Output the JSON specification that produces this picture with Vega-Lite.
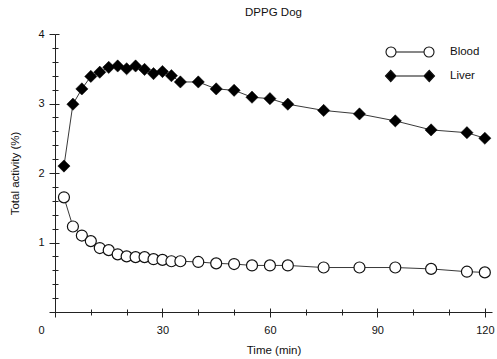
{
  "$schema": "https://vega.github.io/schema/vega-lite/v6.json",
  "autosize": "none",
  "width": 437,
  "height": 278,
  "padding": {"left": 55, "top": 34, "right": 5, "bottom": 47},
  "background": "white",
  "title": {"text": "DPPG Dog", "fontSize": 11.5, "font": "Liberation Sans", "fontWeight": "normal", "color": "#111", "offset": 10, "anchor": "middle"},
  "config": {
    "view": {"stroke": null},
    "font": "Liberation Sans"
  },
  "data": {
    "values": [
      {"series": "Blood", "time": 2.5, "activity": 1.65},
      {"series": "Blood", "time": 5, "activity": 1.23},
      {"series": "Blood", "time": 7.5, "activity": 1.10},
      {"series": "Blood", "time": 10, "activity": 1.02},
      {"series": "Blood", "time": 12.5, "activity": 0.92},
      {"series": "Blood", "time": 15, "activity": 0.89},
      {"series": "Blood", "time": 17.5, "activity": 0.83},
      {"series": "Blood", "time": 20, "activity": 0.80},
      {"series": "Blood", "time": 22.5, "activity": 0.79},
      {"series": "Blood", "time": 25, "activity": 0.79},
      {"series": "Blood", "time": 27.5, "activity": 0.76},
      {"series": "Blood", "time": 30, "activity": 0.75},
      {"series": "Blood", "time": 32.5, "activity": 0.73},
      {"series": "Blood", "time": 35, "activity": 0.73},
      {"series": "Blood", "time": 40, "activity": 0.72},
      {"series": "Blood", "time": 45, "activity": 0.70},
      {"series": "Blood", "time": 50, "activity": 0.69},
      {"series": "Blood", "time": 55, "activity": 0.67},
      {"series": "Blood", "time": 60, "activity": 0.67},
      {"series": "Blood", "time": 65, "activity": 0.67},
      {"series": "Blood", "time": 75, "activity": 0.64},
      {"series": "Blood", "time": 85, "activity": 0.64},
      {"series": "Blood", "time": 95, "activity": 0.64},
      {"series": "Blood", "time": 105, "activity": 0.62},
      {"series": "Blood", "time": 115, "activity": 0.58},
      {"series": "Blood", "time": 120, "activity": 0.57},
      {"series": "Liver", "time": 2.5, "activity": 2.10},
      {"series": "Liver", "time": 5, "activity": 2.99},
      {"series": "Liver", "time": 7.5, "activity": 3.21},
      {"series": "Liver", "time": 10, "activity": 3.39},
      {"series": "Liver", "time": 12.5, "activity": 3.45},
      {"series": "Liver", "time": 15, "activity": 3.52},
      {"series": "Liver", "time": 17.5, "activity": 3.54},
      {"series": "Liver", "time": 20, "activity": 3.50},
      {"series": "Liver", "time": 22.5, "activity": 3.54},
      {"series": "Liver", "time": 25, "activity": 3.49},
      {"series": "Liver", "time": 27.5, "activity": 3.43},
      {"series": "Liver", "time": 30, "activity": 3.46},
      {"series": "Liver", "time": 32.5, "activity": 3.40},
      {"series": "Liver", "time": 35, "activity": 3.31},
      {"series": "Liver", "time": 40, "activity": 3.31},
      {"series": "Liver", "time": 45, "activity": 3.21},
      {"series": "Liver", "time": 50, "activity": 3.19},
      {"series": "Liver", "time": 55, "activity": 3.09},
      {"series": "Liver", "time": 60, "activity": 3.07},
      {"series": "Liver", "time": 65, "activity": 2.99},
      {"series": "Liver", "time": 75, "activity": 2.90},
      {"series": "Liver", "time": 85, "activity": 2.85},
      {"series": "Liver", "time": 95, "activity": 2.75},
      {"series": "Liver", "time": 105, "activity": 2.62},
      {"series": "Liver", "time": 115, "activity": 2.58},
      {"series": "Liver", "time": 120, "activity": 2.50}
    ]
  },
  "layer": [
    {
      "encoding": {
        "x": {
          "field": "time", "type": "quantitative",
          "scale": {"domain": [0, 122], "nice": false, "zero": false},
          "axis": {
            "title": "Time (min)", "titleFontSize": 11.5, "titleFontWeight": "normal", "titleColor": "#111", "titlePadding": 9,
            "values": [0, 10, 20, 30, 40, 50, 60, 70, 80, 90, 100, 110, 120],
            "labelExpr": "datum.value % 30 == 0 ? format(datum.value, 'd') : ''",
            "labelFontSize": 11, "labelColor": "#111", "labelPadding": 7,
            "labelOffset": {"condition": {"test": "datum.value == 0", "value": -14}, "value": 0},
            "grid": false, "domainColor": "#222", "domainWidth": 1, "tickColor": "#222",
            "tickSize": {"condition": {"test": "datum.value % 30 == 0", "value": 5}, "value": 3},
            "labelFlush": false
          }
        },
        "y": {
          "field": "activity", "type": "quantitative",
          "scale": {"domain": [0, 4], "nice": false},
          "axis": {
            "title": "Total activity (%)", "titleFontSize": 11.5, "titleFontWeight": "normal", "titleColor": "#111", "titlePadding": 17,
            "values": [0, 0.2, 0.4, 0.6, 0.8, 1, 1.2, 1.4, 1.6, 1.8, 2, 2.2, 2.4, 2.6, 2.8, 3, 3.2, 3.4, 3.6, 3.8, 4],
            "labelExpr": "(datum.value % 1 == 0 && datum.value > 0) ? format(datum.value, 'd') : ''",
            "labelFontSize": 11, "labelColor": "#111", "labelPadding": 5,
            "grid": false, "domainColor": "#222", "domainWidth": 1, "tickColor": "#222",
            "tickSize": {"condition": {"test": "datum.value % 1 == 0", "value": 6}, "value": 3},
            "labelFlush": false
          }
        }
      },
      "layer": [
        {
          "mark": {"type": "line", "color": "#222", "strokeWidth": 0.9},
          "encoding": {"detail": {"field": "series", "type": "nominal"}}
        },
        {
          "transform": [{"filter": "datum.series == 'Blood'"}],
          "mark": {"type": "point", "shape": "circle", "size": 121, "filled": false, "fill": "white", "fillOpacity": 1, "stroke": "#111", "strokeWidth": 1.2, "opacity": 1},
          "encoding": {}
        },
        {
          "transform": [{"filter": "datum.series == 'Liver'"}],
          "mark": {"type": "point", "shape": "diamond", "size": 150, "filled": true, "fill": "#000", "stroke": "#000", "strokeWidth": 0.5, "opacity": 1},
          "encoding": {}
        },
        {
          "transform": [{"filter": "false"}],
          "mark": {"type": "point", "size": 196, "filled": true, "stroke": "#111", "strokeWidth": 1.1, "opacity": 1},
          "encoding": {
            "shape": {
              "field": "series", "type": "nominal",
              "scale": {"domain": ["Blood", "Liver"], "range": [
                "M-3.43,0 A0.714,0.714 0 1,0 -2.0,0 A0.714,0.714 0 1,0 -3.43,0 Z M-2.0,0 L2.0,0 M2.0,0 A0.714,0.714 0 1,0 3.43,0 A0.714,0.714 0 1,0 2.0,0 Z",
                "M-3.5,0 L-2.75,-0.8 L-2.0,0 L-2.75,0.8 Z M-2.0,0 L2.0,0 M2.0,0 L2.75,-0.8 L3.5,0 L2.75,0.8 Z"
              ]},
              "legend": {
                "title": null, "orient": "none", "legendX": 347, "legendY": 10,
                "symbolSize": 196, "symbolOpacity": 1, "symbolStrokeColor": "#111", "symbolStrokeWidth": 1.1,
                "labelFontSize": 11.5, "labelColor": "#111", "labelOffset": 32, "rowPadding": 8,
                "encode": {"symbols": {"update": {"stroke": {"value": "#111"}, "strokeWidth": {"value": 1.1}, "strokeOpacity": {"value": 1}}}}
              }
            },
            "fill": {
              "field": "series", "type": "nominal",
              "scale": {"domain": ["Blood", "Liver"], "range": ["white", "black"]},
              "legend": {
                "title": null, "orient": "none", "legendX": 347, "legendY": 10,
                "symbolSize": 196, "symbolOpacity": 1, "symbolStrokeColor": "#111", "symbolStrokeWidth": 1.1,
                "labelFontSize": 11.5, "labelColor": "#111", "labelOffset": 32, "rowPadding": 8,
                "encode": {"symbols": {"update": {"stroke": {"value": "#111"}, "strokeWidth": {"value": 1.1}, "strokeOpacity": {"value": 1}}}}
              }
            }
          }
        }
      ],
      "resolve": {"scale": {"shape": "independent", "fill": "independent"}}
    },
    {
      "transform": [{"filter": "false"}],
      "mark": {"type": "point"},
      "encoding": {
        "x": {
          "field": "time", "type": "quantitative",
          "axis": {
            "orient": "bottom", "title": null, "labels": false, "domain": false, "grid": false,
            "values": [0, 10, 20, 30, 40, 50, 60, 70, 80, 90, 100, 110, 120],
            "tickColor": "#222",
            "tickSize": {"condition": {"test": "datum.value % 30 == 0", "value": -4}, "value": -3}
          }
        },
        "y": {
          "field": "activity", "type": "quantitative",
          "axis": {
            "orient": "left", "title": null, "labels": false, "domain": false, "grid": false,
            "values": [0, 0.2, 0.4, 0.6, 0.8, 1, 1.2, 1.4, 1.6, 1.8, 2, 2.2, 2.4, 2.6, 2.8, 3, 3.2, 3.4, 3.6, 3.8, 4],
            "tickColor": "#222",
            "tickSize": {"condition": {"test": "datum.value % 1 == 0", "value": -4}, "value": -3}
          }
        }
      }
    }
  ],
  "resolve": {"axis": {"x": "independent", "y": "independent"}}
}
